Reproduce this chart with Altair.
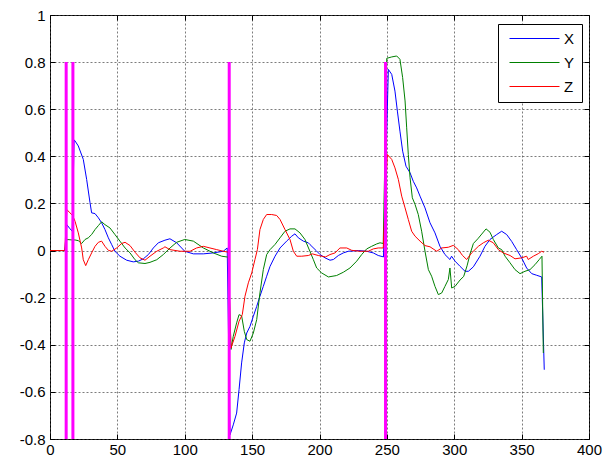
import altair as alt
import pandas as pd

# ---- data ----
x_X = [0, 11, 12.5, 14.5, 16.5, 17.9, 18.6, 21, 24.7, 27.2, 29.7, 30.9, 33.4, 35.9, 38.3, 40.8, 43.3, 45.8, 48.2,
       51.9, 56.9, 61.8, 65.6, 69.3, 73, 76.7, 80.4, 85.3, 89, 94, 100, 106.4, 113.8, 121.2, 128.6, 131.5,
       133.6, 136, 138.5, 140.3, 142.2, 144.2, 146, 148.4, 150.9, 153.4, 155.8, 158.3, 160.8, 163.3, 167,
       170.7, 175.6, 179.4, 181.8, 184.3, 188, 191.7, 193, 197.5, 200.4, 204.1, 207.8, 210.3, 214, 217.7,
       221.4, 228.8, 235, 239.9, 243.6, 247.5,
       251.1, 253.6, 256, 257.8, 259.7, 261.7, 264.2, 267.2, 269.6, 272.1, 274.6, 278.3, 282, 285.7, 289.4,
       293.1, 296.8, 298, 300.6, 304.3, 308, 310.5, 314.2, 319.1, 322.8, 326.5, 331.5, 335.2, 338.9, 342.6,
       346.3, 350, 353.7, 357.5, 361.2, 364.9, 366.8]
y_X = [0, 0, 0.11, 0.095, 0.082, 0.47, 0.465, 0.444, 0.387, 0.302, 0.203, 0.16, 0.157, 0.139, 0.118, 0.089, 0.054,
       0.025, -0.003, -0.024, -0.041, -0.048, -0.045, -0.035, -0.017, 0.011, 0.033, 0.044, 0.05, 0.033, -0.003,
       -0.014, -0.014, -0.01, -0.003, 0.011,
       -0.782, -0.74, -0.69, -0.59, -0.477, -0.392, -0.35, -0.322, -0.279, -0.237, -0.194, -0.152, -0.109,
       -0.067, -0.024, 0.011, 0.04, 0.061, 0.071, 0.054, 0.04, 0.033, 0.025, 0.0, -0.017, -0.031, -0.041,
       -0.038, -0.021, -0.01, -0.003, 0.0, -0.003, -0.01, -0.021, -0.027,
       0.769, 0.748, 0.677, 0.592, 0.507, 0.422, 0.358, 0.33, 0.294, 0.266, 0.231, 0.181, 0.118, 0.075, 0.018,
       -0.017, -0.038, -0.024, -0.045, -0.067, -0.088, -0.088, -0.069, -0.024, 0.018, 0.047, 0.068, 0.082,
       0.068, 0.039, 0.004, -0.031, -0.074, -0.098, -0.105, -0.112, -0.506]

x_Y = [0, 11, 12.5, 16.5, 18.6, 21, 23.5, 26, 28.4, 30.9, 33.4, 35.9, 38.3, 40.8, 44.5, 48.2, 51.9, 55.7, 59.4,
       63.1, 65.6, 70.5, 74.2, 79.2, 84.1, 89.1, 94, 100, 106.4, 113.8, 121.2, 127.4, 132.3,
       134.3, 136, 138.5, 140.3, 142.2, 144.2, 146, 148.4, 150.9, 153.4, 155.8, 158.3, 160.8, 163.3, 167,
       170.7, 174.4, 178.1, 181.8, 185.5, 189.2, 193, 195.4, 197.9, 201.6, 206.6, 212.7, 217.7, 222.6, 227.6,
       231.3, 235, 238.7, 242.4, 244.9, 247.3,
       249.9, 253.6, 257.3, 259.7, 261.7, 263.5, 264.7, 265.9, 267.2, 268.9, 270.9, 273.3, 275.8, 278.3, 280.8,
       283.2, 285.7, 288.2, 290.7, 293.1, 295.6, 296.8, 298.1, 300.6, 304.3, 307, 309.5, 311.7, 314.2, 317.5,
       320.4, 323.6, 326.5, 329, 332.7, 335.2, 337.7, 341.4, 345.1, 348.8, 352.5, 356.2, 359.9, 363.1, 365.1,
       366.1]
y_Y = [0, 0, 0.047, 0.045, 0.045, 0.042, 0.03, 0.047, 0.054, 0.068, 0.089, 0.106, 0.122, 0.11, 0.096, 0.068, 0.04,
       0.011, -0.01, -0.039, -0.052, -0.055, -0.05, -0.039, -0.017, 0.011, 0.035, 0.047, 0.04, 0.011, -0.01,
       -0.024, -0.028,
       -0.42, -0.364, -0.307, -0.272, -0.277, -0.343, -0.378, -0.385, -0.35, -0.293, -0.18, -0.081, -0.017,
       0.004, 0.026, 0.054, 0.082, 0.092, 0.092, 0.075, 0.047, -0.005, -0.038, -0.074, -0.095, -0.112, -0.106,
       -0.092, -0.074, -0.045, -0.017, 0.007, 0.018, 0.028, 0.033, 0.03,
       0.816, 0.822, 0.826, 0.812, 0.734, 0.635, 0.521, 0.408, 0.309, 0.224, 0.196, 0.153, 0.082, -0.003,
       -0.081, -0.109, -0.152, -0.187, -0.18, -0.152, -0.123, -0.074, -0.159, -0.152, -0.125, -0.11, -0.065,
       -0.015, 0.03, 0.05, 0.07, 0.092, 0.078, 0.047, 0.011, 0.004, -0.024, -0.052, -0.081, -0.098, -0.088,
       -0.081, -0.06, -0.038, -0.024, -0.435]

x_Z = [0, 11, 12.5, 14.8, 16.8, 18.6, 21, 23.5, 24.7, 26.5, 28.4, 30.9, 33.4, 35.9, 38.3, 40.8, 43.3, 45.8, 49.5,
       53.2, 55.7, 59.4, 63.1, 66.8, 70.5, 74.2, 79.2, 84.1, 85.3, 89, 96.5, 104, 108.8, 113.8, 118.7, 123.7,
       128.6, 132.3,
       134.3, 137.3, 140.3, 142.7, 144.7, 147.2, 149.7, 152.1, 153.9, 155.8, 158.3, 160.8, 164.5, 168.2, 170.7,
       174.4, 178.1, 180.6, 183.1, 186.8, 191.7, 194.7, 199.1, 204.5, 207.8, 211.5, 215.2, 220.2, 223.9, 230,
       236.2, 239.9, 243.6, 247.3,
       250.3, 253.6, 256, 258.5, 261, 263.5, 265.9, 268.4, 270.9, 274.6, 278.3, 282, 287, 290.7, 295.6, 299.3,
       303, 306, 309.2, 312.9, 317.9, 321.6, 325.3, 329, 332.7, 336.4, 341.4, 345.1, 350, 353.7, 354.9, 358.7,
       362.4, 364.9, 366.6]
y_Z = [0, 0, 0.174, 0.16, 0.149, 0.124, 0.075, 0.011, -0.039, -0.064, -0.039, -0.01, 0.018, 0.035, 0.04, 0.018,
       0.001, -0.003, 0.011, 0.03, 0.035, 0.021, -0.007, -0.031, -0.041, -0.024, -0.003, 0.011, 0.016, 0.004,
       -0.003, -0.003, 0.011, 0.018, 0.011, 0.004, -0.003, -0.007,
       -0.414, -0.364, -0.3, -0.272, -0.194, -0.137, -0.095, -0.038, 0.004, 0.089, 0.132, 0.153, 0.153, 0.149,
       0.132, 0.089, 0.047, -0.003, -0.024, -0.024, -0.021, -0.014, -0.021, -0.027, -0.017, -0.01, 0.011, 0.011,
       0.001, -0.003, -0.003, 0.007, 0.011, 0.011,
       0.408, 0.387, 0.351, 0.302, 0.231, 0.181, 0.132, 0.082, 0.061, 0.04, 0.021, 0.016, -0.003, 0.011, 0.014,
       0.022, 0.004, -0.02, -0.038, -0.01, 0.018, 0.033, 0.044, 0.033, 0.004, -0.01, -0.021, -0.035, -0.031,
       -0.024, -0.038, -0.024, -0.013, -0.003, -0.007]

series_names = ["X", "Y", "Z"]
series_colors = ["#0000ff", "#008000", "#ff0000"]

marker_x = [12, 17, 133, 249]
marker_lo = [-0.8, -0.8, -0.8, -0.8]
marker_hi = [0.8, 0.8, 0.8, 0.8]

x_ticks = [0, 50, 100, 150, 200, 250, 300, 350, 400]
y_ticks = [-0.8, -0.6, -0.4, -0.2, 0, 0.2, 0.4, 0.6, 0.8, 1.0]

rows = []
for name, xs, ys in zip(series_names, [x_X, x_Y, x_Z], [y_X, y_Y, y_Z]):
    for i, (a, b) in enumerate(zip(xs, ys)):
        rows.append({"t": a, "v": b, "axis": name, "order": i})
df = pd.DataFrame(rows)
dm = pd.DataFrame({"t": marker_x, "lo": marker_lo, "hi": marker_hi})

FONT = "Liberation Sans"
xscale = alt.Scale(domain=[0, 400], nice=False, zero=False)
yscale = alt.Scale(domain=[-0.8, 1.0], nice=False, zero=False)

common = dict(tickSize=5, offset=-5, domain=False, tickColor="black", labelColor="black",
              labelFont=FONT, labelFontSize=15, title="", labelFlush=False, labelOverlap=False)

x_axis = alt.Axis(values=x_ticks, grid=True, gridDash=[2, 2], gridColor="#444", gridOpacity=0.7,
                  labelPadding=3, **common)
y_axis = alt.Axis(values=y_ticks, grid=True, gridDash=[2, 2], gridColor="#444", gridOpacity=0.7,
                  labelPadding=5, labelExpr="replace(format(datum.value, '.1~f'), '\u2212', '-')", **common)
x_top = alt.Axis(values=x_ticks, grid=False, orient="top", labels=False, **common)
y_right = alt.Axis(values=y_ticks, grid=False, orient="right", labels=False, **common)

lines = alt.Chart(df).mark_line(strokeWidth=1).encode(
    x=alt.X("t:Q", scale=xscale, axis=x_axis),
    y=alt.Y("v:Q", scale=yscale, axis=y_axis),
    color=alt.Color("axis:N", scale=alt.Scale(domain=series_names, range=series_colors),
                    legend=alt.Legend(title=None, orient="none", legendX=448, legendY=9,
                                      symbolType="stroke", symbolSize=2500, symbolStrokeWidth=1,
                                      labelFont=FONT, labelFontSize=15, labelColor="black",
                                      padding=7, strokeColor="black", fillColor="white",
                                      clipHeight=15, rowPadding=8, symbolOffset=4, labelOffset=4)),
    order="order:Q",
)

bars = alt.Chart(dm).mark_rule(color="#ff00ff", strokeWidth=3).encode(
    x=alt.X("t:Q", scale=xscale, axis=x_top),
    y=alt.Y("lo:Q", scale=yscale, axis=y_right),
    y2="hi:Q",
)

chart = alt.layer(lines, bars).resolve_axis(x="independent", y="independent").properties(
    width=539, height=424,
    autosize=alt.AutoSizeParams(type="none"),
    padding={"left": 50, "top": 15, "right": 15, "bottom": 19},
    background="white",
).configure_view(stroke="black", strokeWidth=1)

chart.save("out.html", embed_options={"renderer": "svg", "actions": False})
